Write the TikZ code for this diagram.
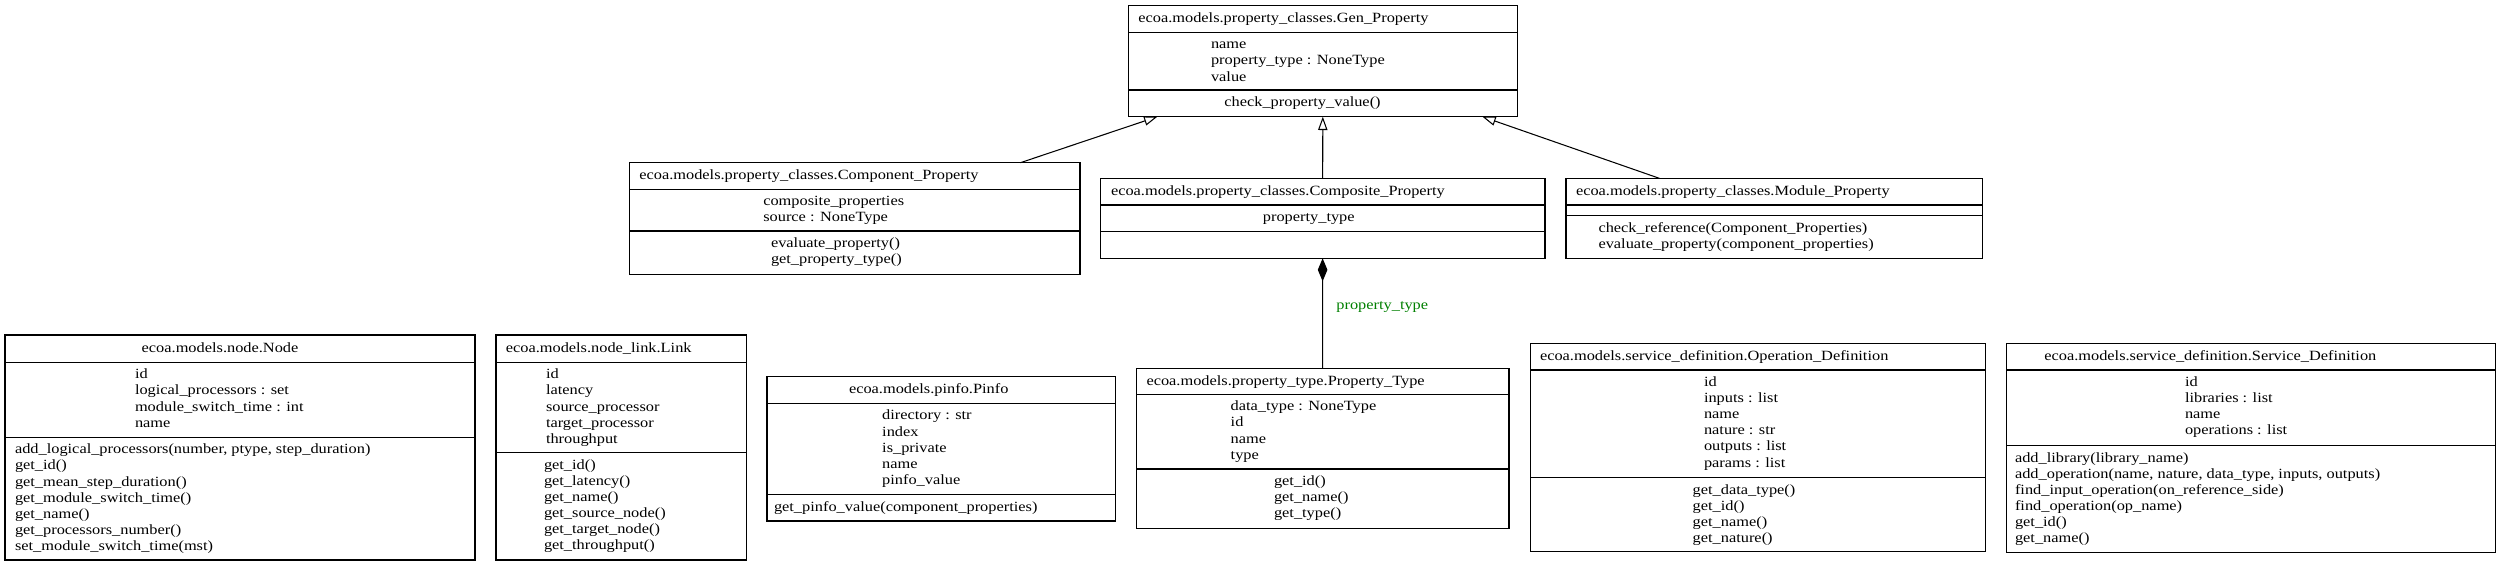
\documentclass[tikz,border=0pt]{standalone}
\usepackage{fontspec}
\setmainfont{Liberation Serif}[FakeStretch=1.16]
\usetikzlibrary{arrows.meta}
\definecolor{lblgreen}{RGB}{0,128,0}
\tikzset{
  umlframe/.style={draw=black, line width=1.05pt, inner sep=0pt, outer sep=0pt, fill=none},
  umlsep/.style={draw=black, line width=1.05pt},
  umltext/.style={inner sep=0pt, outer sep=0pt, anchor=base west, font=\fontsize{14.1}{16.1}\selectfont},
  inherit/.style={draw=black, line width=1.05pt, -{Triangle[open, length=13.3pt, width=9.3pt]}},
  compose/.style={draw=black, line width=1.05pt, -{Diamond[length=23pt, width=9.6pt]}},
}
% name x1 y1 x2 y2 sep1 sep2
\newcommand{\umlbox}[7]{%
  \node[umlframe, minimum width={#4-#2}, minimum height={#5-#3}] (#1) at ({(#2+#4)/2},{(#3+#5)/2}) {};
  \draw[umlsep] (#2,#6) -- (#4,#6);
  \draw[umlsep] (#2,#7) -- (#4,#7);
}
% name x firstbaseline {lines}
\newcommand{\umllines}[4]{%
  \foreach \txt [count=\i] in {#4} {\node[umltext] (#1-\i) at (#2,{#3+(\i-1)*16.1}) {\txt};}
}
\begin{document}
\begin{tikzpicture}[x=1pt,y=-1pt]
\useasboundingbox (0,0) rectangle (2500,566);
\fill[white] (0,0) rectangle (2500,566);

% Gen_Property
\umlbox{gen}{1128.7}{5.3}{1517.1}{116.7}{32.3}{90}
\umllines{gen-t}{1138.3}{22.3}{{ecoa.models.property\_classes.Gen\_Property}}
\umllines{gen-a}{1211}{48.8}{{name},{property\_type : NoneType},{value}}
\umllines{gen-m}{1224.4}{106.5}{{check\_property\_value()}}

% Component_Property
\umlbox{comp}{629.3}{162.7}{1080}{274.3}{189.3}{231}
\umllines{comp-t}{639.3}{179.7}{{ecoa.models.property\_classes.Component\_Property}}
\umllines{comp-a}{763.3}{205.8}{{composite\_properties},{source : NoneType}}
\umllines{comp-m}{771}{247.5}{{evaluate\_property()},{get\_property\_type()}}

% Composite_Property
\umlbox{compo}{1100.2}{178.3}{1545}{258.3}{205}{231.7}
\umllines{compo-t}{1111}{195.3}{{ecoa.models.property\_classes.Composite\_Property}}
\umllines{compo-a}{1262.9}{221.5}{{property\_type}}

% Module_Property
\umlbox{mod}{1566}{178.3}{1982.3}{258.3}{205}{215.7}
\umllines{mod-t}{1576}{195.3}{{ecoa.models.property\_classes.Module\_Property}}
\umllines{mod-m}{1598.5}{232.2}{{check\_reference(Component\_Properties)},{evaluate\_property(component\_properties)}}

% Node
\umlbox{node}{5}{335}{475}{560}{362.3}{437.3}
\umllines{node-t}{141.7}{352}{{ecoa.models.node.Node}}
\umllines{node-a}{135}{378.8}{{id},{logical\_processors : set},{module\_switch\_time : int},{name}}
\umllines{node-m}{15}{453.8}{{add\_logical\_processors(number, ptype, step\_duration)},{get\_id()},{get\_mean\_step\_duration()},{get\_module\_switch\_time()},{get\_name()},{get\_processors\_number()},{set\_module\_switch\_time(mst)}}

% Link
\umlbox{link}{496}{335}{746.4}{560}{362.3}{452.8}
\umllines{link-t}{505.8}{352}{{ecoa.models.node\_link.Link}}
\umllines{link-a}{546}{378.8}{{id},{latency},{source\_processor},{target\_processor},{throughput}}
\umllines{link-m}{544}{469.3}{{get\_id()},{get\_latency()},{get\_name()},{get\_source\_node()},{get\_target\_node()},{get\_throughput()}}

% Pinfo
\umlbox{pinfo}{767}{376.7}{1115.9}{521}{403.4}{494.5}
\umllines{pinfo-t}{849}{393.7}{{ecoa.models.pinfo.Pinfo}}
\umllines{pinfo-a}{882.2}{419.9}{{directory : str},{index},{is\_private},{name},{pinfo\_value}}
\umllines{pinfo-m}{774}{511}{{get\_pinfo\_value(component\_properties)}}

% Property_Type
\umlbox{ptype}{1136.3}{368.3}{1509}{528.3}{394.3}{469}
\umllines{ptype-t}{1146.5}{385.3}{{ecoa.models.property\_type.Property\_Type}}
\umllines{ptype-a}{1230.7}{410.8}{{data\_type : NoneType},{id},{name},{type}}
\umllines{ptype-m}{1274}{485.5}{{get\_id()},{get\_name()},{get\_type()}}

% Operation_Definition
\umlbox{opdef}{1530.7}{343.3}{1985}{551.7}{370}{477.7}
\umllines{opdef-t}{1540}{360.3}{{ecoa.models.service\_definition.Operation\_Definition}}
\umllines{opdef-a}{1704}{386.5}{{id},{inputs : list},{name},{nature : str},{outputs : list},{params : list}}
\umllines{opdef-m}{1692.7}{494.2}{{get\_data\_type()},{get\_id()},{get\_name()},{get\_nature()}}

% Service_Definition
\umlbox{svc}{2006}{343.3}{2495.7}{552.3}{370}{445.7}
\umllines{svc-t}{2044.3}{360.3}{{ecoa.models.service\_definition.Service\_Definition}}
\umllines{svc-a}{2185}{386.5}{{id},{libraries : list},{name},{operations : list}}
\umllines{svc-m}{2015}{462.2}{{add\_library(library\_name)},{add\_operation(name, nature, data\_type, inputs, outputs)},{find\_input\_operation(on\_reference\_side)},{find\_operation(op\_name)},{get\_id()},{get\_name()}}

% connectors
\draw[inherit] (comp) -- (gen);
\draw[inherit] (compo) -- (gen);
\draw[inherit] (mod) -- (gen);
\draw[compose] (ptype) -- (compo);
\node[umltext, text=lblgreen] (lbl) at (1336.4,309.5) {property\_type};
\end{tikzpicture}
\end{document}
